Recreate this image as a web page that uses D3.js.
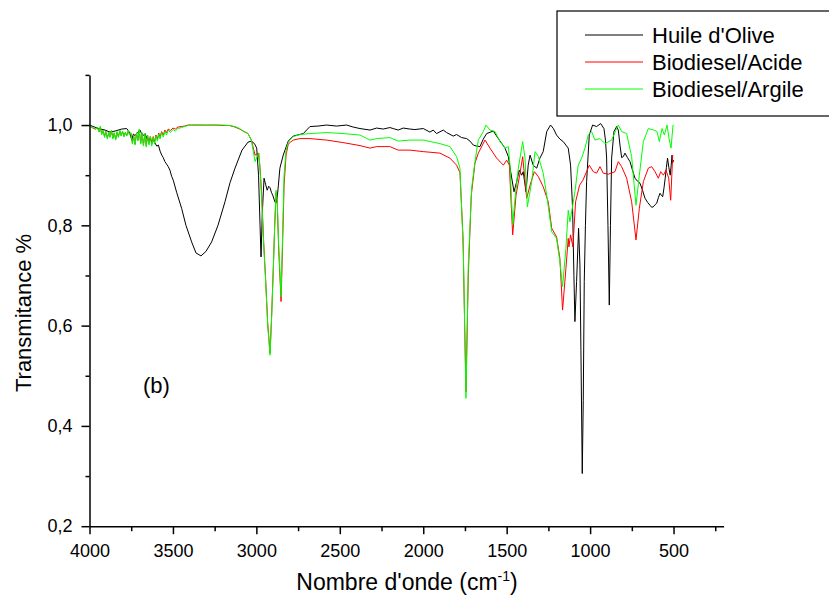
<!DOCTYPE html>
<html>
<head>
<meta charset="utf-8">
<script src="https://d3js.org/d3.v7.min.js"></script>
<style>
  body { margin: 0; background: #fff; }
  svg { display: block; font-family: "Liberation Sans", Arial, sans-serif; }
</style>
</head>
<body>
<svg id="chart" width="829" height="602"></svg>
<script>
var huileData = [
  [4000,1.0],[3947,0.993],[3907,0.990],[3877,0.986],[3847,0.988],[3807,0.992],[3777,0.993],[3757,0.984],
  [3747,0.970],[3737,0.982],[3727,0.979],[3712,0.985],[3697,0.990],[3682,0.978],[3667,0.983],[3652,0.970],
  [3637,0.973],[3627,0.967],[3617,0.970],[3607,0.964],[3597,0.958],[3587,0.960],[3577,0.948],[3567,0.940],
  [3558,0.935],[3548,0.927],[3538,0.922],[3528,0.917],[3518,0.910],[3508,0.898],[3498,0.890],[3478,0.866],
  [3448,0.834],[3422,0.800],[3388,0.767],[3362,0.745],[3332,0.739],[3302,0.748],[3268,0.767],[3230,0.800],
  [3188,0.847],[3158,0.885],[3128,0.914],[3086,0.950],[3050,0.966],[3028,0.968],[3010,0.962],[2998,0.954],
  [2987,0.900],[2978,0.800],[2972,0.737],[2965,0.820],[2954,0.894],[2945,0.882],[2935,0.870],[2926,0.878],
  [2918,0.875],[2910,0.866],[2902,0.860],[2888,0.846],[2878,0.846],[2868,0.880],[2859,0.914],[2839,0.940],
  [2809,0.968],[2779,0.978],[2719,0.983],[2679,0.997],[2630,0.998],[2579,1.0],[2520,0.998],[2459,1.0],
  [2420,0.996],[2379,0.993],[2319,0.990],[2279,0.994],[2240,0.992],[2200,0.995],[2180,0.993],[2150,0.990],
  [2120,0.994],[2080,0.992],[2050,0.991],[2000,0.993],[1960,0.986],[1940,0.990],[1920,0.983],[1880,0.990],
  [1860,0.985],[1820,0.978],[1800,0.981],[1770,0.975],[1740,0.973],[1720,0.968],[1700,0.960],[1680,0.958],
  [1660,0.957],[1640,0.972],[1620,0.983],[1580,0.988],[1550,0.973],[1510,0.954],[1490,0.937],[1476,0.907],
  [1456,0.867],[1440,0.887],[1425,0.910],[1410,0.900],[1401,0.907],[1384,0.867],[1371,0.920],[1360,0.940],
  [1341,0.920],[1320,0.914],[1301,0.934],[1281,0.947],[1260,0.987],[1237,1.0],[1220,0.993],[1201,0.980],
  [1181,0.972],[1161,0.967],[1145,0.960],[1131,0.954],[1117,0.920],[1105,0.834],[1097,0.700],[1091,0.608],
  [1081,0.688],[1069,0.794],[1061,0.721],[1055,0.550],[1047,0.305],[1041,0.450],[1035,0.688],[1028,0.800],
  [1021,0.887],[1005,0.980],[985,1.0],[961,0.997],[937,1.003],[917,0.993],[908,0.970],[901,0.934],
  [893,0.800],[885,0.641],[878,0.800],[871,0.934],[857,0.987],[841,0.997],[831,0.990],[821,0.960],
  [811,0.935],[801,0.937],[791,0.944],[776,0.935],[761,0.927],[746,0.910],[731,0.894],[716,0.888],
  [701,0.884],[686,0.870],[671,0.854],[656,0.846],[641,0.840],[631,0.836],[621,0.837],[611,0.841],
  [601,0.844],[591,0.855],[581,0.864],[573,0.860],[565,0.857],[557,0.875],[550,0.894],[543,0.915],
  [536,0.934],[528,0.915],[520,0.900],[514,0.920],[509,0.940],[505,0.925],[500,0.930]
];

var acideData = [
  [4000,1.0],[3990,0.996],[3975,0.993],[3962,0.992],[3952,0.995],[3943,0.987],[3935,0.996],[3927,0.982],
  [3918,0.989],[3910,0.977],[3902,0.987],[3893,0.974],[3885,0.985],[3877,0.977],[3868,0.988],[3860,0.974],
  [3852,0.984],[3843,0.972],[3835,0.986],[3827,0.977],[3818,0.988],[3810,0.979],[3802,0.987],[3793,0.978],
  [3785,0.985],[3777,0.979],[3768,0.988],[3760,0.981],[3752,0.984],[3743,0.965],[3735,0.977],[3727,0.962],
  [3718,0.984],[3710,0.970],[3702,0.990],[3693,0.964],[3685,0.984],[3677,0.960],[3668,0.981],[3660,0.959],
  [3652,0.980],[3643,0.963],[3635,0.978],[3627,0.962],[3618,0.977],[3610,0.966],[3602,0.980],[3593,0.972],
  [3585,0.984],[3577,0.976],[3568,0.987],[3558,0.980],[3548,0.990],[3538,0.985],[3528,0.992],[3515,0.989],
  [3500,0.994],[3485,0.992],[3470,0.996],[3450,0.997],[3430,0.998],[3410,1.0],[3388,1.0],[3350,1.0],
  [3300,1.0],[3250,1.0],[3200,0.999],[3160,0.999],[3128,0.996],[3100,0.992],[3080,0.988],[3050,0.983],
  [3030,0.970],[3008,0.940],[2998,0.942],[2988,0.944],[2978,0.915],[2968,0.860],[2956,0.765],[2944,0.690],
  [2932,0.605],[2918,0.545],[2908,0.625],[2898,0.720],[2890,0.800],[2882,0.865],[2875,0.845],[2866,0.750],
  [2852,0.648],[2843,0.760],[2834,0.880],[2822,0.940],[2809,0.962],[2795,0.966],[2779,0.970],[2739,0.973],
  [2679,0.973],[2579,0.970],[2480,0.965],[2379,0.959],[2319,0.954],[2279,0.957],[2200,0.957],[2150,0.950],
  [2080,0.950],[2000,0.947],[1900,0.944],[1840,0.934],[1800,0.920],[1780,0.905],[1762,0.780],[1744,0.468],
  [1730,0.700],[1712,0.860],[1690,0.924],[1670,0.944],[1630,0.970],[1600,0.954],[1560,0.934],[1520,0.920],
  [1500,0.930],[1484,0.920],[1464,0.781],[1444,0.860],[1420,0.904],[1404,0.937],[1380,0.854],[1360,0.880],
  [1334,0.907],[1310,0.897],[1281,0.877],[1251,0.847],[1230,0.794],[1201,0.777],[1181,0.734],[1165,0.631],
  [1145,0.714],[1131,0.774],[1127,0.757],[1117,0.781],[1103,0.757],[1087,0.847],[1063,0.880],[1043,0.890],
  [1021,0.907],[1005,0.920],[981,0.907],[961,0.904],[941,0.917],[921,0.904],[891,0.902],[851,0.907],
  [831,0.927],[811,0.917],[781,0.894],[751,0.847],[725,0.771],[705,0.834],[681,0.887],[651,0.914],
  [631,0.917],[611,0.907],[591,0.894],[577,0.907],[561,0.900],[545,0.910],[529,0.894],[517,0.850],
  [505,0.940]
];

var argileData = [
  [4000,1.0],[3990,0.997],[3975,0.994],[3962,0.991],[3952,0.996],[3943,0.986],[3935,0.998],[3927,0.981],
  [3918,0.990],[3910,0.975],[3902,0.988],[3893,0.972],[3885,0.986],[3877,0.975],[3868,0.990],[3860,0.972],
  [3852,0.985],[3843,0.970],[3835,0.987],[3827,0.975],[3818,0.990],[3810,0.978],[3802,0.988],[3793,0.976],
  [3785,0.986],[3777,0.978],[3768,0.990],[3760,0.980],[3752,0.985],[3743,0.962],[3735,0.978],[3727,0.960],
  [3718,0.985],[3710,0.968],[3702,0.992],[3693,0.962],[3685,0.985],[3677,0.958],[3668,0.982],[3660,0.956],
  [3652,0.980],[3643,0.960],[3635,0.978],[3627,0.958],[3618,0.975],[3610,0.962],[3602,0.978],[3593,0.968],
  [3585,0.982],[3577,0.972],[3568,0.985],[3558,0.976],[3548,0.987],[3538,0.980],[3528,0.990],[3515,0.985],
  [3500,0.991],[3485,0.988],[3470,0.993],[3450,0.995],[3430,0.997],[3410,0.999],[3388,1.0],[3350,1.0],
  [3300,0.999],[3250,1.0],[3200,1.0],[3160,0.999],[3128,0.997],[3100,0.993],[3080,0.988],[3050,0.983],
  [3030,0.970],[3008,0.927],[2998,0.935],[2984,0.944],[2976,0.900],[2968,0.850],[2956,0.760],[2944,0.685],
  [2932,0.600],[2918,0.541],[2908,0.620],[2898,0.717],[2890,0.800],[2882,0.870],[2875,0.850],[2866,0.760],
  [2852,0.658],[2843,0.780],[2834,0.900],[2822,0.950],[2809,0.965],[2795,0.972],[2779,0.977],[2739,0.981],
  [2679,0.983],[2579,0.985],[2480,0.983],[2379,0.980],[2319,0.970],[2279,0.973],[2200,0.975],[2150,0.968],
  [2080,0.970],[2000,0.970],[1900,0.963],[1840,0.957],[1800,0.937],[1780,0.914],[1760,0.754],[1744,0.455],
  [1730,0.721],[1710,0.874],[1690,0.927],[1670,0.970],[1640,0.987],[1624,1.0],[1600,0.990],[1570,0.987],
  [1540,0.967],[1510,0.954],[1490,0.957],[1480,0.920],[1464,0.801],[1450,0.854],[1430,0.914],[1404,0.967],
  [1390,0.934],[1376,0.837],[1350,0.887],[1330,0.947],[1310,0.937],[1281,0.904],[1260,0.860],[1230,0.787],
  [1201,0.774],[1181,0.727],[1165,0.678],[1145,0.754],[1131,0.830],[1121,0.807],[1107,0.834],[1091,0.867],
  [1071,0.920],[1051,0.934],[1031,0.954],[1011,0.980],[991,0.987],[971,0.970],[941,0.973],[911,0.963],
  [871,0.970],[841,0.993],[831,1.0],[811,0.987],[781,0.983],[751,0.937],[725,0.840],[705,0.900],
  [681,0.967],[651,0.993],[619,0.990],[599,0.987],[585,0.967],[569,0.993],[555,0.980],[539,1.0],
  [527,0.973],[515,0.954],[503,1.0],[500,1.0]
];

var seriesNoms = ["Huile d'Olive", "Biodiesel/Acide", "Biodiesel/Argile"];
var seriesCouleurs = ["#000000", "#ff0000", "#00ff00"];
var xTicks = [4000, 3500, 3000, 2500, 2000, 1500, 1000, 500];
var xTicksMineurs = [3750, 3250, 2750, 2250, 1750, 1250, 750, 250];
var yTicks = [0.2, 0.4, 0.6, 0.8, 1.0];
var yTicksMineurs = [0.3, 0.5, 0.7, 0.9, 1.1];

var svg = d3.select("#chart");
svg.append("rect").attr("width", 829).attr("height", 602).attr("fill", "#fff");

var x = d3.scaleLinear().domain([4000, 200]).range([89.5, 723.6]);
var y = d3.scaleLinear().domain([0.2, 1.1]).range([526.2, 74.9]);

// courbes
var ligne = d3.line().x(d => x(d[0])).y(d => y(d[1]));
[huileData, acideData, argileData].forEach(function (data, i) {
  svg.append("path")
    .datum(data)
    .attr("d", ligne)
    .attr("fill", "none")
    .attr("stroke", seriesCouleurs[i])
    .attr("stroke-width", 1)
    .attr("stroke-linejoin", "round");
});

// axes
var fmtY = d => d3.format(".1f")(d).replace(".", ",");

var gx = svg.append("g").attr("transform", "translate(0,526.2)");
gx.call(d3.axisBottom(x).tickValues(xTicks).tickSize(8).tickSizeOuter(0).tickPadding(10).tickFormat(d3.format("d")));
var gxm = svg.append("g").attr("transform", "translate(0,526.2)");
gxm.call(d3.axisBottom(x).tickValues(xTicksMineurs).tickSize(5).tickFormat(""));
gxm.select(".domain").remove();

var gy = svg.append("g").attr("transform", "translate(89.5,0)");
gy.call(d3.axisLeft(y).tickValues(yTicks).tickSize(8).tickSizeOuter(0).tickPadding(9).tickFormat(fmtY));
var gym = svg.append("g").attr("transform", "translate(89.5,0)");
gym.call(d3.axisLeft(y).tickValues(yTicksMineurs).tickSize(4).tickFormat(""));
gym.select(".domain").remove();

svg.selectAll(".domain, .tick line").attr("stroke", "#000").attr("stroke-width", 1.5);
svg.selectAll(".tick text")
  .attr("fill", "#000")
  .style("font-size", "18px")
  .style("font-family", "'Liberation Sans', Arial, sans-serif");

// titres des axes
var tx = svg.append("text")
  .attr("x", 407).attr("y", 590)
  .attr("text-anchor", "middle")
  .style("font-size", "23px");
tx.append("tspan").text("Nombre d'onde (cm");
tx.append("tspan").attr("dy", -9).style("font-size", "14px").text("-1");
tx.append("tspan").attr("dy", 9).text(")");

svg.append("text")
  .attr("transform", "translate(31,313) rotate(-90)")
  .attr("text-anchor", "middle")
  .style("font-size", "22px")
  .text("Transmitance %");

svg.append("text")
  .attr("x", 143).attr("y", 393)
  .style("font-size", "22px")
  .text("(b)");

// légende
var leg = svg.append("g");
leg.append("rect")
  .attr("x", 557).attr("y", 11)
  .attr("width", 300).attr("height", 105)
  .attr("fill", "#fff").attr("stroke", "#000").attr("stroke-width", 1.2);
var legY = [35, 62, 89];
seriesNoms.forEach(function (nom, i) {
  leg.append("line")
    .attr("x1", 585).attr("x2", 643)
    .attr("y1", legY[i]).attr("y2", legY[i])
    .attr("stroke", seriesCouleurs[i]).attr("stroke-width", 1);
  leg.append("text")
    .attr("x", 652).attr("y", legY[i] + 8)
    .style("font-size", "22px")
    .text(nom);
});
</script>
</body>
</html>
